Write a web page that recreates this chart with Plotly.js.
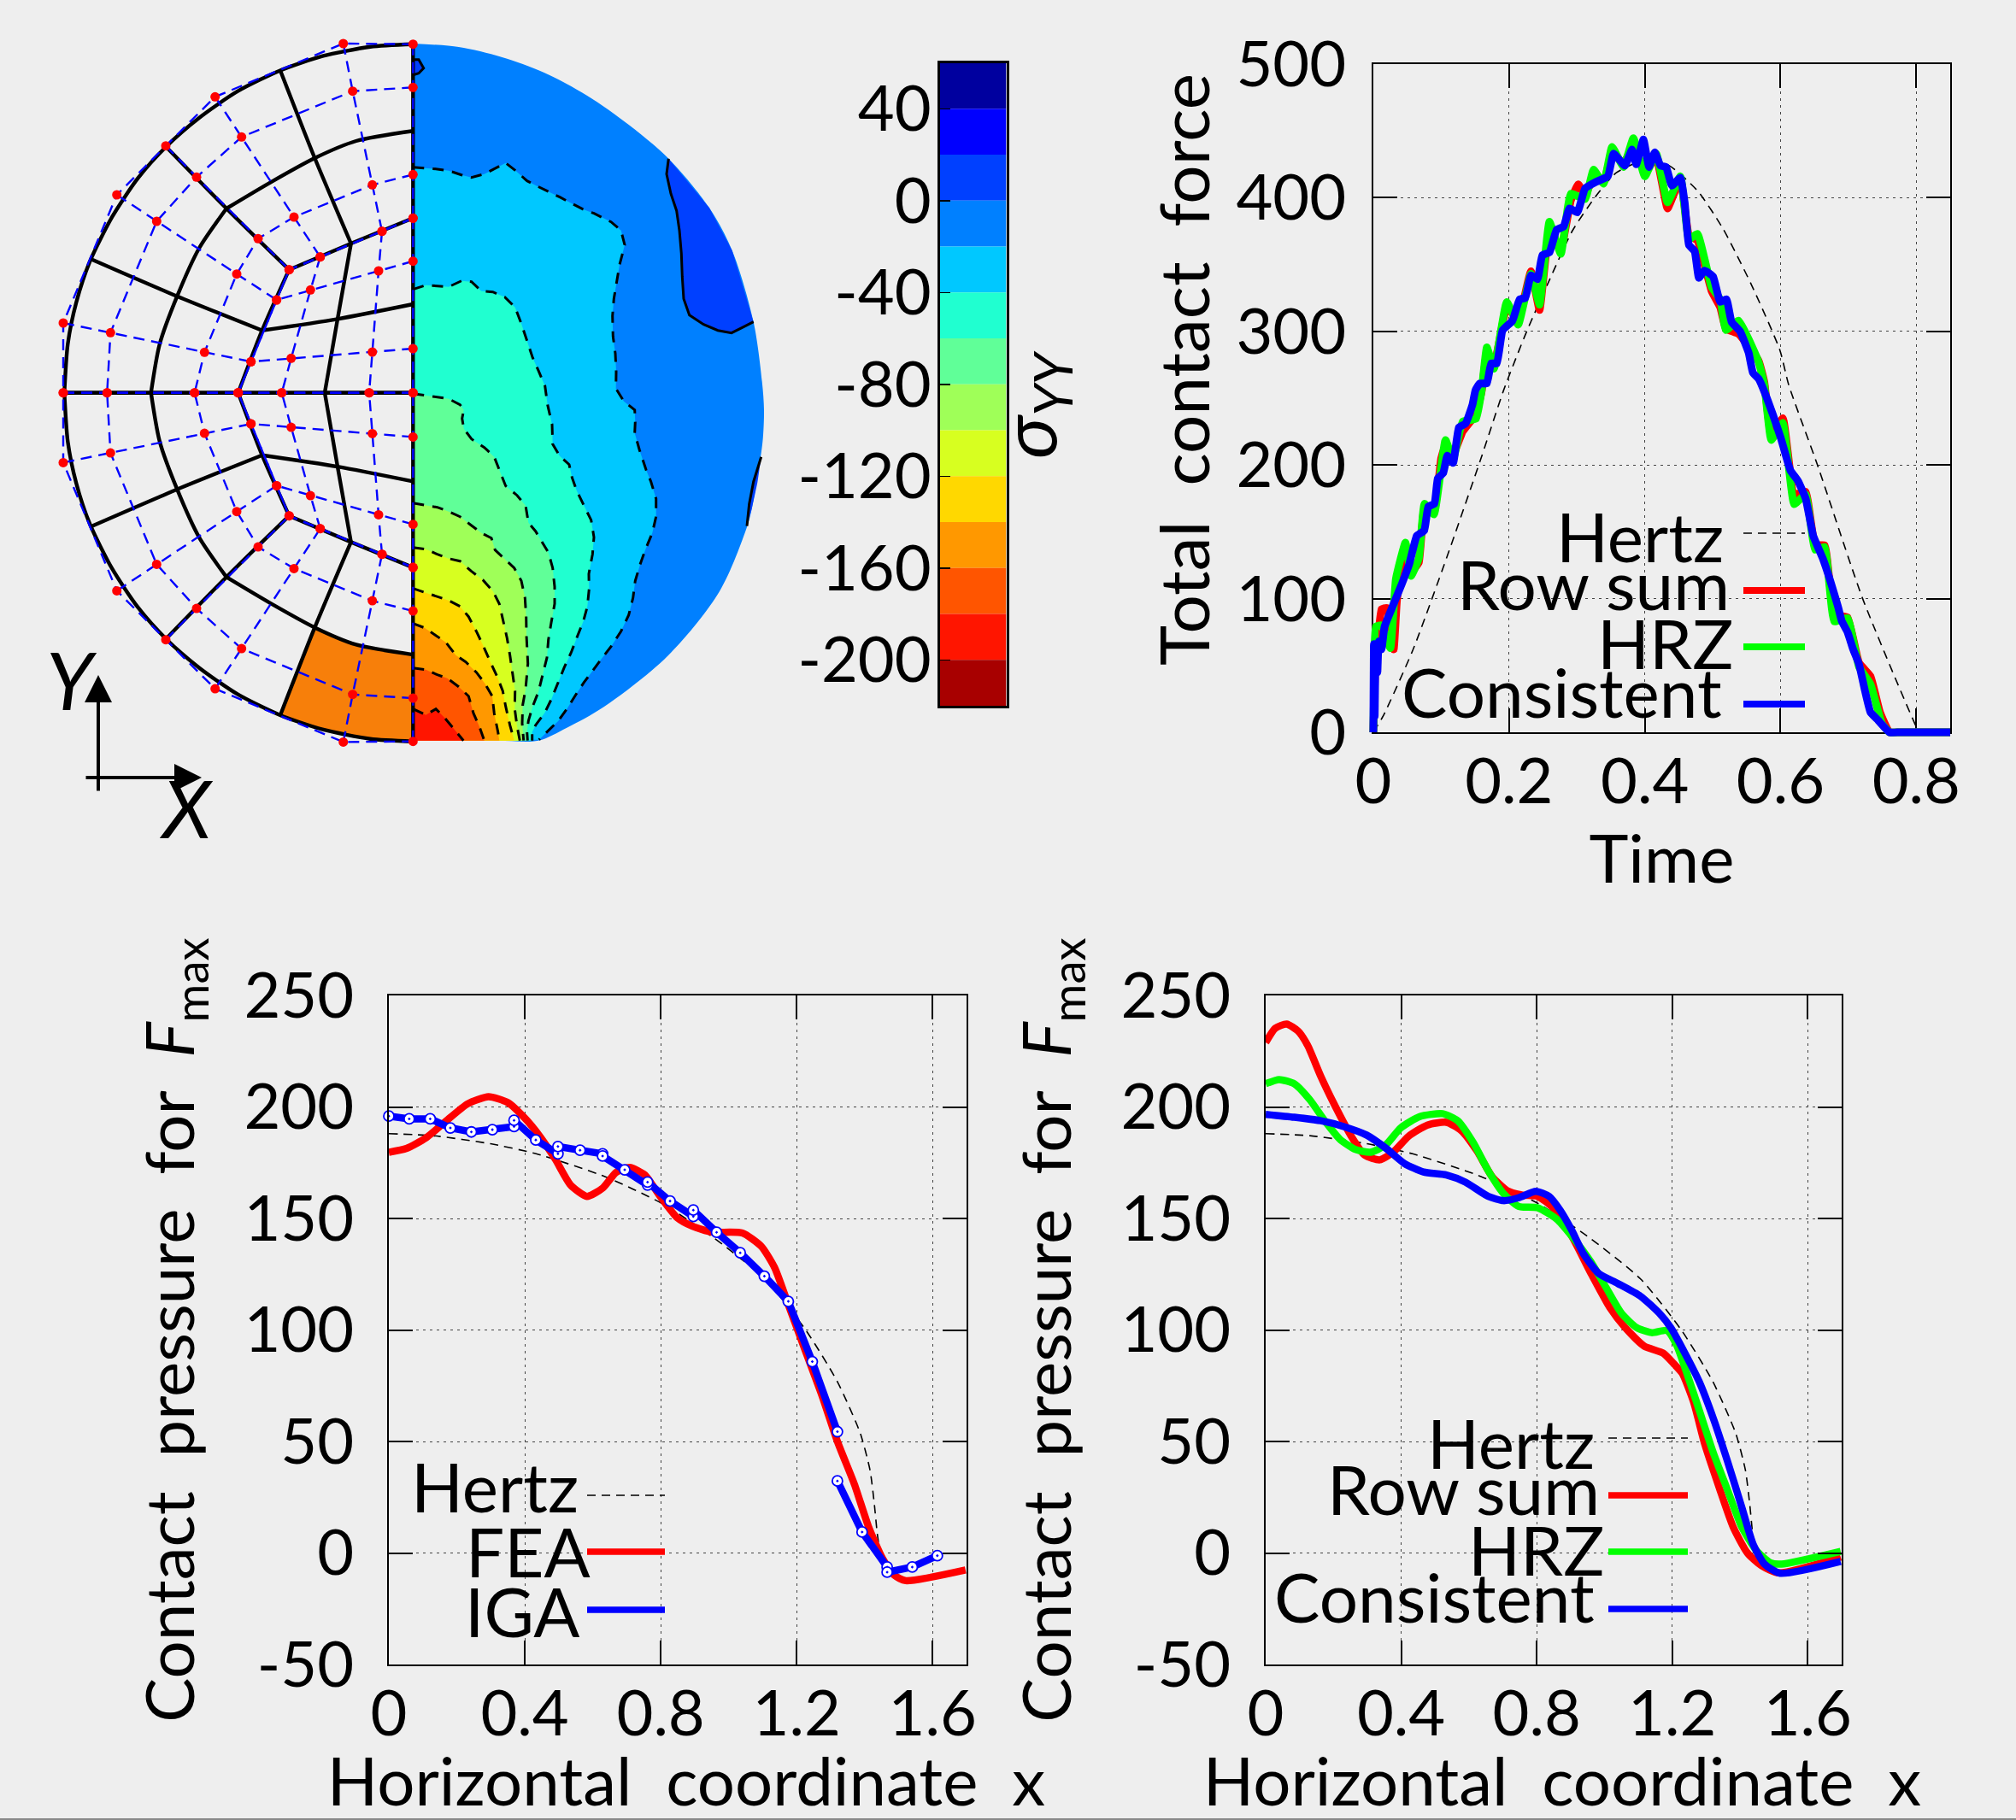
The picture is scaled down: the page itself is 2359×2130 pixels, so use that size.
<!DOCTYPE html>
<html><head><meta charset="utf-8">
<script src="https://cdn.plot.ly/plotly-3.0.1.min.js"></script>
<style>html,body{margin:0;padding:0;background:#eeeeee}</style></head>
<body><div id="chart" style="width:2359px;height:2130px"></div>
<script>
// ---------- colour bar ----------
const bandBottoms=[40,20,0,-20,-40,-60,-80,-100,-120,-140,-160,-180,-200,-220];
const bandColors=['#00009f','#0000ff','#0040ff','#0080ff','#00c8ff','#20ffd0','#60ff98','#9fff58','#d7ff20','#ffd800','#ff9800','#ff5500','#ff1500','#a80000'];
const barTicks=[40,0,-40,-80,-120,-160,-200];
const barLabels=['40','0','-40','-80','-120','-160','-200'];

// ---------- sigma_YY contour field (right half of section) ----------
const rimX=[0,53.4,103.4,153.4,203.4,253.4,298.4,346.7,373.4,398.4,408.4,410.7,409.4,406.7,396.7,391,358.7,298.7,223.7,180,146.7,100,50,0];
const rimY=[408.7,404.7,393,374.7,348,313,274.7,216.4,166.4,83,13,-20.3,-53.6,-75.3,-134.3,-156.3,-232.3,-307.3,-367.3,-392,-407,-407,-407,-407];
const c20X=[0,26.7,41.7,56.7,68.4,83.4,95,108.4,120,133.4,145,160,171.7,185,198.4,211.7,231.7,243.4,247.7,241.7,238.4,235,233.4,234,236.7,237.7,237.4,246.7,259.4,260,259.4,265,272.7,278.4,284.4,284.4,280,271.7,266,260,257.4,252.4,243.4,231.7,220,210,200,190,180,170,158.4,147.4];
const c20Y=[264,262,260,255,252,256,262,269,260,248,242,235,229,222,215,210,200,190,173,150,131,110,90,66,46,25,5,-10,-20,-34,-47,-67,-90,-104,-124,-145,-164,-184,-200,-220,-240,-260,-279,-297,-312,-325,-339,-354,-370,-384,-395,-406];
const c40X=[0,15,28.4,41.7,56.7,68.4,80,93.4,107.4,119.4,126.7,133.4,140,146.7,154.4,157.4,162.7,163.4,171.7,182.7,186,191.7,200,208.4,211.7,210,205.7,206,204,199.4,190.7,185,176.7,170,161.7,154.4,143.4,139.4,139.4];
const c40Y=[121,126,125,124,131,130,119,118,112,100,81,60,41,26,8,-14,-37,-60,-74,-84,-99,-115,-132,-149,-169,-189,-212,-230,-250,-267,-289,-304,-322,-339,-359,-374,-389,-397,-407];
const c60X=[0,28.4,41.7,55,59.4,57.4,59.4,68.4,83.4,95,101.7,108.4,121.7,131.7,135,143.4,158.4,163.4,165.7,165.7,161.7,158.4,156.7,151.7,146.7,140,135,133.4,134];
const c60Y=[-1,-5,-7,-14,-20,-30,-42,-54,-64,-75,-92,-109,-120,-132,-152,-162,-187,-205,-227,-247,-269,-289,-310,-329,-350,-367,-384,-397,-407];
const c80X=[0,28.4,41.7,55,66.7,80,91.7,96,106.7,118.4,126.7,131,132.4,132.7,134.4,131.7,128.4,127.7,129.4];
const c80Y=[-129,-134,-139,-145,-154,-164,-170,-184,-194,-205,-220,-240,-262,-284,-317,-347,-365,-387,-407];
const c100X=[0,15,28.4,41.7,55,68.4,81.7,93.4,101,105,110,113.4,116.7,119.4,119,121.7,125];
const c100Y=[-181,-183,-189,-194,-197,-209,-219,-232,-247,-265,-287,-307,-329,-349,-370,-390,-407];
const c120X=[0,15,28.4,41.7,55,65,74,81.7,90,98.4,105,108.4,113.4,118.4];
const c120Y=[-229,-234,-239,-243,-250,-262,-279,-295,-314,-332,-349,-367,-389,-407];
const c140X=[0,13.4,26.7,38.4,50,61.7,74,84,92.7,95,99.4,101];
const c140Y=[-270,-275,-284,-292,-307,-315,-327,-340,-355,-375,-397,-407];
const c160X=[0,15,28.4,40,53.4,65,70.7,77.4,83.4];
const c160Y=[-322,-324,-330,-334,-344,-355,-375,-390,-407];
const c180X=[0,15,26.7,36.7,48.4,59];
const c180Y=[-370,-377,-370,-380,-394,-407];
const zeroTopX=[0,6.7,12.4,6.7,0];
const zeroTopY=[390,390,380,374,372];
const zeroRightX=[299,296.7,301.7,308.4,311.7,314,315,316.7,323.4,340,356.7,372.7,386.7,398.4];
const zeroRightY=[274,256,233,213,190,163,136,110,91,80,73,70,77,83];
const zeroRightRimX=[373.4,346.7];
const zeroRightRimY=[166.4,216.4];
const zeroLowX=[407.4,398.4,393.4,390.7];
const zeroLowY=[-75,-104,-130,-156];
const zeroLowRimX=[396.7,403];
const zeroLowRimY=[-134.3,-105];

// ---------- element mesh (upper half of left side; lower half is its mirror image) ----------
const meshLines=[
 [[0,-50,-106,-156,-205,-250,-289,-322,-352,-378,-394,-404,-408],[408,405,394,377,353,322,288,251,206,154,106,57,0]],
 [[-155.6,-115,-72.6],[378,274.7,174.7]],
 [[-72.6,-88.3,-103.3],[174.7,86.4,0]],
 [[0,-66.6,-115,-166.6,-218.3],[306.4,294.7,274.7,246.4,215.7]],
 [[-218.3,-250,-276,-296.6,-306.6],[215.7,169.7,113,56.4,0]],
 [[-289,-218.3,-145],[288,215.7,144]],
 [[0,-72.6,-145],[204.4,174.7,144]],
 [[-145,-176.6,-204.6],[144,73,0]],
 [[-378,-276,-176.6],[157,113,73]],
 [[-176.6,-88.3,0],[73,86.4,103.7]],
 [[-408,0],[0,0]],
 [[0,0],[408,0]]
];
const elementX=[-155.6,-115,-66.6,0,0,-50,-106];
const elementY=[-378,-274.7,-294.7,-306.4,-408,-405,-394];

// ---------- control net ----------
const outerNetX=[[0,-81.6,-231.6,-289.3,-346.6,-409.3,-409.3],[0,-70.6,-200.6,-253.3,-300,-354,-358],[0,-47.6,-139.3,-181.3,-206.3,-244,-255.6],[0,-36.3,-108.6,-145,-159.6,-189.6,-204.6]];
const outerNetY=[[408,408.7,346.4,289,231.7,81.7,0],[357.4,353,299.4,252.4,200.7,70.4,0],[255.4,243.4,205.7,180.4,139,47.4,0],[204.4,189,159,144,108.7,36.4,0]];
const innerNetX=[[0,-36.3,-108.6,-145],[0,-40.3,-120,-159.6],[0,-47.6,-142.6,-189.6],[0,-51.3,-153.6,-204.6]];
const innerNetY=[[204.4,189,159,144],[154,142.7,120.4,108.7],[51.7,47.7,40.4,36.4],[0,0,0,0]];

// ---------- total contact force ----------
const hertzTime=[0,.0143,.0586,.109,.16,.192,.226,.26,.293,.327,.358,.4,.436,.478,.515,.557,.599,.612,.654,.721,.794,.805,.82,.85];
const hertzForce=[0,12,62,132,207,256,300,339,375,400.6,418.7,428,424,405,377,335,286,260,200.6,100,11,0,0,0];
const rowSumTime=[0,.003,.008,.012,.02,.03,.035,.0473,.0557,.067,.0755,.0893,.1,.106,.1175,.1316,.1512,.1596,.1673,.1778,.1966,.2134,.2323,.2449,.2595,.2763,.291,.302,.312,.3245,.3392,.3518,.3686,.3832,.4,.4168,.4335,.4524,.465,.4776,.4985,.5111,.5195,.5384,.5677,.5761,.5864,.6033,.6201,.637,.651,.665,.6791,.6987,.7156,.7325,.7465,.7605,.775,.8,.85];
const rowSumForce=[0,50,75,92,93,62,100,135,120,127,168,165,205,214,208,225,238,255,283,275,318,309,345,316,375,362,398,410,402,415,412,433,426,438,420,430,392,414,372,368,330,318,302,298,278,262,222,235,178,180,140,140,88,86,52,42,15,0,0,0,0];
const hrzTime=[0,.001,.0035,.012,.025,.0333,.0473,.0557,.067,.0755,.0893,.1063,.1175,.1316,.1512,.1596,.1673,.1778,.1966,.2134,.2323,.2449,.2595,.2763,.291,.312,.3245,.3392,.3518,.3686,.3832,.4,.4168,.4335,.4524,.465,.4776,.4985,.5111,.5195,.5384,.5677,.5761,.5864,.6033,.6201,.637,.651,.665,.6791,.6987,.7156,.7325,.7493,.7605,.775,.8,.85];
const hrzForce=[0,30,79,80,63,115,142,117,130,171,163,218.7,204,232.5,234.6,256,288,272,322,305,343,320,382,358,403,399,421,410.5,438,423,444.6,416,433,396.6,416,369,373,333,324,301,308,277,260,218.7,231.5,170.7,178,136.6,138.7,83,85.5,49,36,6.6,0,0,0,0];
const consistentTime=[0,.0008,.002,.0035,.006,.008,.012,.0165,.025,.042,.053,.064,.075,.081,.09,.095,.103,.109,.1175,.126,.136,.146,.1505,.1568,.1673,.1736,.182,.1904,.205,.2155,.2239,.2323,.2419,.249,.2595,.27,.2805,.2889,.3006,.312,.3266,.3455,.3539,.3706,.3811,.3874,.3979,.4063,.4147,.4231,.4314,.4398,.4524,.4587,.465,.4734,.4797,.488,.5006,.5111,.5203,.5279,.5405,.553,.5593,.5677,.5761,.5892,.6005,.6145,.6258,.637,.6482,.6623,.6735,.6847,.6903,.6987,.707,.7156,.724,.7325,.7437,.7605,.775,.8,.85];
const consistentForce=[0,66,12,66,45,68,62,79,90,111,126,147,151,169,171,190,194,207,201.6,228,231,245,256,261,261,276,276,300.7,308,324,325,342,339,357,359,376,378.5,392,389,407,411.5,416,433,424,436,425,443.5,423,434,424,423,409,415,396.6,364.6,360,340,345.5,341,322,324,307,300,284,269,264.5,255,237,220,196,188,175,147,130,113,94,83,75,62,51,32,15,9,0,0,0,0];

// ---------- contact pressure: Hertz reference ----------
const hertzCoord=[0,.1307,.299,.4336,.6357,.804,.95,1.107,1.2276,1.32,1.387,1.416,1.4287,1.437,1.4454];
const hertzPressure=[188,187.1,183.5,179,168.8,156.7,142,122.8,99.8,76.8,53.8,37.1,21.8,9,0];

// ---------- FEA vs IGA ----------
const feaCoord=[0,.052,.108,.164,.2318,.2934,.3495,.4,.445,.49,.5347,.583,.63,.669,.7087,.7534,.7984,.849,.8937,.95,1.04,1.096,1.135,1.174,1.219,1.275,1.32,1.37,1.412,1.453,1.4875,1.521,1.697];
const feaPressure=[179.7,181.4,186,193.1,201.4,204.6,202,195,186.7,176.5,165,159.9,163.7,170.7,172.9,169.5,159.9,150.3,146.5,143.9,143.5,137.5,128,112,93.4,70.4,50,30.8,11.6,-2.5,-10,-12.4,-7.6];
const igaCoord=[0,.06,.1217,.181,.2428,.3046,.3685,.3685,.4325,.4976,.4976,.5627,.629,.629,.694,.7614,.7614,.8275,.896,.896,.9645,1.034,1.105,1.1755,1.246,1.32,null,1.32,1.3927,1.4664,1.4664,1.5402,1.614];
const igaPressure=[195.9,194.65,194.65,190.6,188.8,189.8,191.2,194,185.2,179,182.25,180.6,179,178,171.8,165,166.3,157.8,150.9,153.75,143.8,134.6,124.1,112.8,85.8,54.4,null,32.3,9.4,-6.3,-8.6,-6.3,-1.2];

// ---------- mass matrices ----------
const rowSumCoord=[0,.0284,.062,.0958,.124,.1631,.208,.2529,.2922,.337,.3764,.4213,.4774,.5334,.5783,.6232,.6681,.713,.7579,.8028,.8477,.9037,.96,1.016,1.0609,1.117,1.1732,1.2067,1.2293,1.2627,1.2963,1.3382,1.38,1.422,1.4638,1.514,1.697];
const rowSumPressure=[228.9,235.3,237.2,234,227.6,213.6,199.5,186.8,178.4,176.3,179.7,186.8,191.9,193.1,189.3,180.4,168.8,162.5,160.5,159.9,154.8,142,125.4,110,101.1,92.8,89.6,84.5,80.6,67.8,48.6,29.5,11.6,0,-5.7,-8.9,-1.8];
const hrzCoord=[0,.0397,.0845,.1295,.1744,.2192,.264,.309,.354,.3987,.455,.5222,.5671,.612,.657,.7018,.7466,.8028,.859,.9037,.96,1.0048,1.05,1.0945,1.1395,1.1843,1.2125,1.246,1.2796,1.3215,1.3633,1.4052,1.447,1.489,1.5225,1.697];
const hrzPressure=[210.4,212.3,210.4,203.4,193.8,185.5,181,179.7,182.9,190.6,195.7,197,193.8,184.2,171.4,161.2,155.4,154.8,149.7,142,130.5,119,107.5,101.1,98.8,99.8,93.4,79.3,64,44.8,28.2,11.6,1.4,-4.4,-5,.7];
const consistentCoord=[0,.0845,.1631,.2305,.2978,.354,.41,.466,.5334,.5895,.657,.7018,.7466,.7972,.8365,.87,.9037,.9374,.9824,1.0385,1.1058,1.1619,1.1958,1.2377,1.2796,1.3215,1.3633,1.4052,1.4388,1.4723,1.5183,1.697];
const consistentPressure=[196.7,195.4,193.8,191.2,187.4,181.6,174.6,170.8,169.5,166.3,159.9,158,159.3,162.2,159.9,153.5,144.6,134.3,125.4,120.9,115.2,107.5,101,89.5,76.8,60.2,41,20.5,3.9,-5,-9.1,-3.8];

// ---------- axis ticks and texts ----------
const timeTicks=[0,.2,.4,.6,.8], timeLabels=['0','0.2','0.4','0.6','0.8'];
const forceTicks=[0,100,200,300,400,500], forceLabels=['0','100','200','300','400','500'];
const coordTicks=[0,.4,.8,1.2,1.6], coordLabels=['0','0.4','0.8','1.2','1.6'];
const pressTicks=[-50,0,50,100,150,200,250], pressLabels=['-50','0','50','100','150','200','250'];

const W=2359,H=2130,FONT='Lato, "Open Sans", sans-serif';
const fx=p=>p/W, fy=p=>1-p/H;
const BLUE='#0000ff',RED='#ff0000',GREEN='#00ff00';

function gapJoin(lines,sign){const X=[],Y=[];lines.forEach(l=>{X.push(...l[0],null);Y.push(...l[1].map(v=>sign*v),null);});return [X,Y];}
const meshUp=gapJoin(meshLines,1), meshDown=gapJoin(meshLines,-1);
function netLines(nx,ny){const out=[];nx.forEach((r,i)=>out.push([r,ny[i]]));
  nx[0].forEach((_,j)=>out.push([nx.map(r=>r[j]),ny.map(r=>r[j])]));return out;}
const netAll=[...netLines(outerNetX,outerNetY),...netLines(innerNetX,innerNetY)];
const netUp=gapJoin(netAll,1), netDown=gapJoin(netAll,-1);
const nodesX=[...outerNetX.flat(),...innerNetX.flat()], nodesY=[...outerNetY.flat(),...innerNetY.flat()];

const traces=[];
const fillPoly=(x,y,color,shape)=>traces.push({type:'scatter',mode:'lines',x,y,fill:'toself',fillcolor:color,line:{width:0,color,shape:shape||'linear',smoothing:.9},hoverinfo:'skip',showlegend:false,xaxis:'x',yaxis:'y'});
const isoLine=(x,y,dash)=>traces.push({type:'scatter',mode:'lines',x,y,line:{color:'#000',width:3,dash:dash?'13px,10px':'solid'},hoverinfo:'skip',showlegend:false,xaxis:'x',yaxis:'y'});

fillPoly(rimX,rimY,bandColors[3],'spline');
fillPoly(zeroTopX,zeroTopY,bandColors[2]);
fillPoly([...zeroRightX,...zeroRightRimX],[...zeroRightY,...zeroRightRimY],bandColors[2]);
fillPoly([...zeroLowX,...zeroLowRimX],[...zeroLowY,...zeroLowRimY],bandColors[2]);
const levels=[[c20X,c20Y,4],[c40X,c40Y,5],[c60X,c60Y,6],[c80X,c80Y,7],[c100X,c100Y,8],[c120X,c120Y,9],[c140X,c140Y,10],[c160X,c160Y,11],[c180X,c180Y,12]];
levels.forEach(l=>fillPoly([...l[0],0],[...l[1],-407],bandColors[l[2]]));
levels.forEach(l=>isoLine(l[0],l[1],true));
isoLine(zeroTopX,zeroTopY,false);isoLine(zeroRightX,zeroRightY,false);isoLine(zeroLowX,zeroLowY,false);

fillPoly(elementX,elementY,'#f77f0a');
[meshUp,meshDown].forEach(m=>traces.push({type:'scatter',mode:'lines',x:m[0],y:m[1],line:{color:'#000',width:4.4,shape:'spline',smoothing:.7},hoverinfo:'skip',showlegend:false,xaxis:'x',yaxis:'y'}));
[netUp,netDown].forEach(m=>traces.push({type:'scatter',mode:'lines',x:m[0],y:m[1],line:{color:BLUE,width:2.4,dash:'13px,8px'},hoverinfo:'skip',showlegend:false,xaxis:'x',yaxis:'y'}));
traces.push({type:'scatter',mode:'markers',x:[...nodesX,...nodesX],y:[...nodesY,...nodesY.map(v=>-v)],marker:{color:RED,size:11,line:{width:0}},hoverinfo:'skip',showlegend:false,xaxis:'x',yaxis:'y'});

// colour bar
traces.push({type:'bar',x:bandBottoms.map(()=>0),y:bandBottoms.map(()=>20),base:bandBottoms,width:1,marker:{color:bandColors,line:{width:0}},hoverinfo:'skip',showlegend:false,xaxis:'x2',yaxis:'y2'});

const curve=(x,y,color,w,ax,ay,smooth)=>traces.push({type:'scatter',mode:'lines',x,y,line:{color,width:w,shape:'spline',smoothing:smooth||.6},hoverinfo:'skip',showlegend:false,xaxis:ax,yaxis:ay});
const hertzLine=(x,y,ax,ay)=>traces.push({type:'scatter',mode:'lines',x,y,line:{color:'#000',width:1.6,dash:'10px,7px',shape:'spline',smoothing:.6},hoverinfo:'skip',showlegend:false,xaxis:ax,yaxis:ay});

hertzLine(hertzTime,hertzForce,'x3','y3');
// force curves sit on a second invisible pair of axes with the same scale, so thick strokes are not cut at the frame
curve(rowSumTime,rowSumForce,RED,9,'x6','y6',.35);
curve(hrzTime,hrzForce,GREEN,9,'x6','y6',.35);
curve(consistentTime,consistentForce,BLUE,9,'x6','y6',.35);

hertzLine(hertzCoord,hertzPressure,'x4','y4');
curve(feaCoord,feaPressure,RED,8.5,'x4','y4');
traces.push({type:'scatter',mode:'lines+markers',x:igaCoord,y:igaPressure,connectgaps:false,cliponaxis:false,line:{color:BLUE,width:8.5},marker:{symbol:'circle-dot',size:12,color:'#fff',line:{color:BLUE,width:1.8}},hoverinfo:'skip',showlegend:false,xaxis:'x4',yaxis:'y4'});

hertzLine(hertzCoord,hertzPressure,'x5','y5');
curve(rowSumCoord,rowSumPressure,RED,8.5,'x5','y5');
curve(hrzCoord,hrzPressure,GREEN,8.5,'x5','y5');
curve(consistentCoord,consistentPressure,BLUE,8.5,'x5','y5');

// axes
const tickFont={family:FONT,size:74,color:'#000'};
const xTitleFont={family:FONT,size:78,color:'#000'};
const yTitleFont={family:FONT,size:78,color:'#000'};
function plotAxis(dom,range,tv,tt,title,standoff,labelGap,extra){
 return {domain:dom,range,tickmode:'array',tickvals:tv,ticktext:tt,ticks:'inside',ticklen:28,tickwidth:2,tickcolor:'#000',
  showline:true,linecolor:'#000',linewidth:2,mirror:'ticks',showgrid:true,gridcolor:'#444',gridwidth:1,griddash:'3px,5px',zeroline:false,
  tickfont:tickFont,title:{text:title,standoff,font:extra.isY?yTitleFont:xTitleFont},ticklabelstandoff:labelGap,automargin:false,anchor:extra.anchor};
}
const dx=(a,b)=>[a/W,b/W], dy=(top,bot)=>[1-bot/H,1-top/H];
const contactTitle='Contact  pressure  for  <i>F</i><sub>max</sub>';
const coordTitle='&nbsp;Horizontal  coordinate  x';
const layout={
 width:W,height:H,margin:{l:0,r:0,t:0,b:0},paper_bgcolor:'#eeeeee',plot_bgcolor:'rgba(0,0,0,0)',showlegend:false,font:{family:FONT,color:'#000'},
 xaxis:{domain:[0,1000/W],range:[-483.3,516.7],visible:false,fixedrange:true},
 yaxis:{domain:[1-1000/H,1],range:[-540.3,459.7],visible:false,fixedrange:true,anchor:'x'},
 xaxis2:{domain:dx(1099.5,1177.5),range:[-.5,.5],anchor:'y2',showticklabels:false,ticks:'',showgrid:false,zeroline:false,showline:true,linecolor:'#000',linewidth:3,mirror:true},
 yaxis2:{domain:dy(73.5,826),range:[-220,60],anchor:'x2',tickmode:'array',tickvals:barTicks,ticktext:barLabels,ticks:'inside',ticklen:12,tickwidth:1.5,tickcolor:'#000',tickfont:tickFont,ticklabelstandoff:-8,showgrid:false,zeroline:false,showline:true,linecolor:'#000',linewidth:3,mirror:true},
 xaxis3:plotAxis(dx(1607,2282),[0,.85],timeTicks,timeLabels,'Time',0,-8,{anchor:'y3'}),
 yaxis3:plotAxis(dy(75,857),[0,500],forceTicks,forceLabels,'',8,15,{anchor:'x3',isY:true}),
 xaxis4:plotAxis(dx(455,1131),[0,1.7],coordTicks,coordLabels,coordTitle,35,-8,{anchor:'y4'}),
 yaxis4:plotAxis(dy(1165,1948),[-50,250],pressTicks,pressLabels,contactTitle,32,24,{anchor:'x4',isY:true}),
 xaxis5:plotAxis(dx(1481,2155),[0,1.7],coordTicks,coordLabels,coordTitle,35,-8,{anchor:'y5'}),
 yaxis5:plotAxis(dy(1165,1948),[-50,250],pressTicks,pressLabels,contactTitle,32,24,{anchor:'x5',isY:true}),
 // invisible second pair for the three force curves: 10 px wider on every side at the same data scale
 xaxis6:{domain:dx(1597,2292),range:[-10/795,.85+10/795],anchor:'y6',visible:false},
 yaxis6:{domain:dy(65,867),range:[-10/1.564,500+10/1.564],anchor:'x6',visible:false},
 shapes:[],annotations:[]
};
const noteFont={family:FONT,size:80,color:'#000'};
const note=(text,x,y,anchor,extra)=>layout.annotations.push(Object.assign({text,xref:'paper',yref:'paper',x:fx(x),y:fy(y),xanchor:anchor||'right',yanchor:'middle',showarrow:false,font:noteFont},extra||{}));
const sample=(x0,x1,y,color,w,dash)=>layout.shapes.push({type:'line',xref:'paper',yref:'paper',x0:fx(x0),x1:fx(x1),y0:fy(y),y1:fy(y),line:{color,width:w,dash:dash||'solid'}});

note('Total  contact  force',1384,433,'center',{textangle:-90});
note('Hertz',2019,627);note('Row sum',2026,683);note('HRZ',2030,752);note('Consistent',2017,809);
sample(2040,2112,624,'#000',1.6,'10px,7px');sample(2040,2112,691,RED,8);sample(2040,2112,757,GREEN,8);sample(2040,2112,824,BLUE,8);

note('Hertz',679,1739);note('FEA',693,1815);note('IGA',681,1885);
sample(687,778,1750,'#000',1.6,'10px,7px');sample(687,778,1816,RED,7.5);sample(687,778,1884,BLUE,7.5);

note('Hertz',1868,1688);note('Row sum',1874,1742);note('HRZ',1879,1813);note('Consistent',1868,1868);
sample(1882,1975,1683,'#000',1.6,'10px,7px');sample(1882,1975,1750,RED,7.5);sample(1882,1975,1816,GREEN,7.5);sample(1882,1975,1883,BLUE,7.5);

// coordinate triad
layout.annotations.push({text:'',xref:'x',yref:'y',axref:'x',ayref:'y',x:-368.3,y:-330.3,ax:-368.3,ay:-467.3,showarrow:true,arrowhead:2,arrowsize:1.6,arrowwidth:4,arrowcolor:'#000',standoff:0});
layout.annotations.push({text:'',xref:'x',yref:'y',axref:'x',ayref:'y',x:-247.3,y:-450.3,ax:-384.3,ay:-450.3,showarrow:true,arrowhead:2,arrowsize:1.6,arrowwidth:4,arrowcolor:'#000',standoff:0});
note('<i>Y</i>',84,794,'center',{font:{family:FONT,size:94,color:'#000'}});
note('<i>X</i>',218,944,'center',{font:{family:FONT,size:94,color:'#000'}});
note('<i>σ</i><sub><i>YY</i></sub>',1207,474,'center',{textangle:-90,font:{family:FONT,size:90,color:'#000'}});
layout.shapes.push({type:'line',xref:'paper',yref:'paper',x0:0,x1:1,y0:fy(2129),y1:fy(2129),line:{color:'#888888',width:2}});

Plotly.newPlot('chart',traces,layout,{staticPlot:true,displayModeBar:false});
</script></body></html>
